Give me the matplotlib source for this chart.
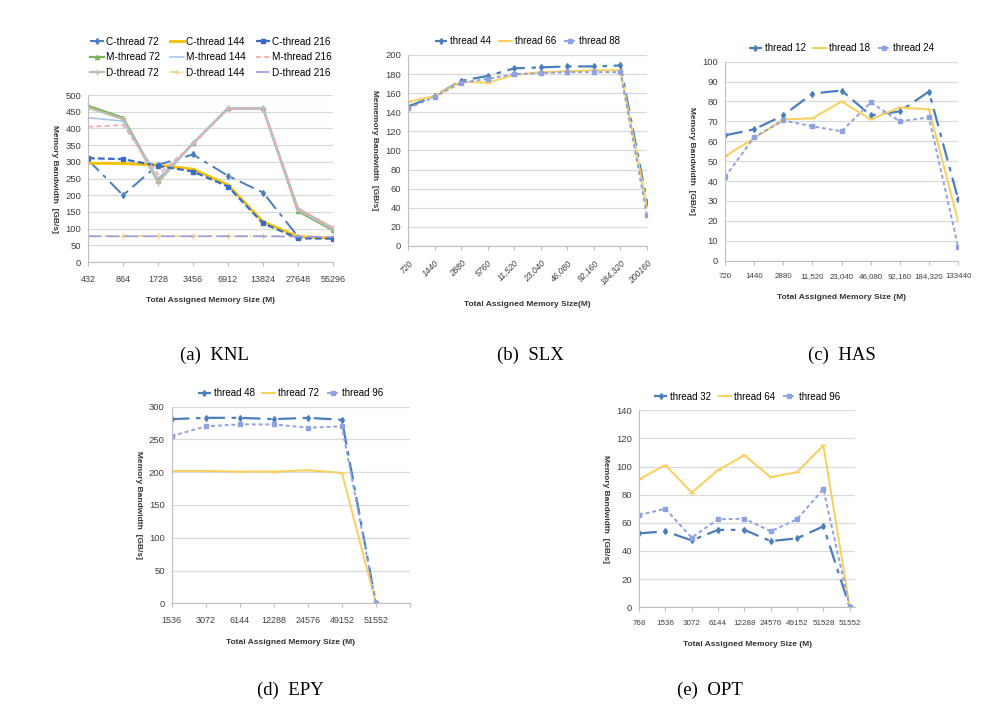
import matplotlib
matplotlib.use("Agg")
import matplotlib.pyplot as plt

##################################################################
# Données
##################################################################

# (a) KNL
knl_sizes = ["432", "864", "1728", "3456", "6912", "13824", "27648", "55296"]
knl_c72 = [306, 200, 291, 322, 258, 208, 76, 72]
knl_c144 = [296, 295, 290, 278, 231, 121, 76, 72]
knl_c216 = [311, 308, 288, 271, 226, 116, 71, 70]
knl_m72 = [468, 432, 245, 355, 460, 460, 152, 95]
knl_m144 = [432, 422, 250, 354, 460, 460, 155, 98]
knl_m216 = [405, 410, 262, 352, 458, 458, 158, 100]
knl_d72 = [462, 428, 238, 356, 461, 461, 160, 102]
knl_d144 = [78, 78, 78, 78, 78, 78, 77, 76]
knl_d216 = [77, 77, 77, 77, 77, 77, 76, 75]

# (b) SLX
slx_sizes = ["720", "1440", "2880", "5760", "11,520", "23,040", "46,080", "92,160", "184,320", "200160"]
slx_t44 = [146, 157, 173, 178, 186, 187, 188, 188, 189, 46]
slx_t66 = [151, 157, 172, 171, 179, 182, 183, 184, 184, 41]
slx_t88 = [144, 156, 171, 175, 180, 181, 182, 182, 182, 32]

# (c) HAS
has_sizes = ["720", "1440", "2880", "11,520", "23,040", "46,080", "92,160", "184,320", "133440"]
has_t12 = [63, 66, 73, 84, 85.5, 73, 75, 85, 31]
has_t18 = [52.5, 61.5, 71, 71.5, 80, 71, 77, 76, 20]
has_t24 = [42, 62, 70.5, 67.5, 65, 79.5, 70, 72, 7]

# (d) EPY
epy_sizes = ["1536", "3072", "6144", "12288", "24576", "49152", "51552", ""]
epy_t48 = [281, 283, 283, 281, 283, 280, 0]
epy_t72 = [202, 202, 201, 201, 203, 199, 0]
epy_t96 = [255, 270, 273, 273, 268, 270, 0]

# (e) OPT
opt_sizes = ["768", "1536", "3072", "6144", "12288", "24576", "49152", "51528", "51552"]
opt_t32 = [52.5, 54, 47.5, 55, 55, 47, 49, 57.5, 0]
opt_t64 = [91, 101, 81.5, 97.5, 108, 92.5, 96, 115, 0]
opt_t96 = [65.5, 70, 49.5, 62.5, 63, 54, 62.5, 84, 0]

##################################################################
# Styles
##################################################################
BLUE = "#4A7EBB"
DBLUE = "#3A6BC4"
YELLOW = "#F9CF5C"
LAVENDER = "#8EA1E1"
GRID = "#D9D9D9"

plt.rcParams["font.family"] = ["Liberation Sans", "DejaVu Sans"]


def style_axis(ax, labels, ymax, ystep, xlabel, ylabel, xmax=None, rot=0, xfs=6.5):
    """Mise en forme façon Excel : grille horizontale, axes gris clair."""
    n = len(labels)
    ax.set_xticks(range(n))
    if rot:
        ax.set_xticklabels(labels, rotation=rot, ha="right", rotation_mode="anchor",
                           fontsize=6.2, color="#404040", style="italic")
    else:
        ax.set_xticklabels(labels, fontsize=xfs, color="#404040")
    ax.set_xlim(0, (n - 1) if xmax is None else xmax)
    ax.set_ylim(0, ymax)
    ax.set_yticks(range(0, ymax + 1, ystep))
    ax.tick_params(axis="y", labelsize=6.8, colors="#404040", length=0, pad=5)
    ax.tick_params(axis="x", length=3, color="#BFBFBF", pad=6)
    ax.grid(axis="y", color=GRID, linewidth=0.9)
    ax.set_axisbelow(True)
    for s in ["top", "right"]:
        ax.spines[s].set_visible(False)
    ax.spines["left"].set_color("#BFBFBF")
    ax.spines["bottom"].set_color("#BFBFBF")
    ax.set_xlabel(xlabel, fontsize=6, fontweight="bold", color="#333333", labelpad=10)
    ax.set_ylabel(ylabel, fontsize=6, fontweight="bold", color="#333333", rotation=270,
                  labelpad=10)


def three_lines(ax, x, a, b, c, names):
    ax.plot(x, a, color=BLUE, lw=1.6, ls=(0, (8, 3, 2, 3)), marker="d", ms=3, label=names[0])
    ax.plot(x, b, color=YELLOW, lw=1.4, ls="-", marker="_", ms=4, label=names[1])
    ax.plot(x, c, color=LAVENDER, lw=1.4, ls=(0, (2, 1.5)), marker="s", ms=3, label=names[2])
    ax.legend(loc="lower center", bbox_to_anchor=(0.5, 1.0), ncol=3, frameon=False,
              handlelength=1.3, handletextpad=0.3, columnspacing=0.8,
              prop={"size": 7})


fig = plt.figure(figsize=(9.98, 7.13), dpi=100)

# --- (a) KNL ---
ax1 = fig.add_axes([0.0882, 0.6325, 0.2455, 0.2342])
x = range(len(knl_sizes))
ax1.plot(x, knl_c72, color=BLUE, lw=1.4, ls=(0, (8, 3, 2, 3)), marker="d", ms=3, label="C-thread 72")
ax1.plot(x, knl_m72, color="#7DB35E", lw=1.6, marker="^", ms=3, label="M-thread 72")
ax1.plot(x, knl_d72, color="#C4BBB0", lw=1.6, marker="+", ms=4, label="D-thread 72")
ax1.plot(x, knl_c144, color="#F2C200", lw=2.0, marker="_", ms=4, label="C-thread 144")
ax1.plot(x, knl_m144, color="#A9C6E8", lw=1.2, label="M-thread 144")
ax1.plot(x, knl_d144, color="#F8CE8C", lw=1.2, ls=(0, (5, 2, 1, 2)), marker="+", ms=4, label="D-thread 144")
ax1.plot(x, knl_c216, color=DBLUE, lw=1.6, ls=(0, (3, 1.5)), marker="s", ms=3, label="C-thread 216")
ax1.plot(x, knl_m216, color="#F4A7A0", lw=1.2, ls=(0, (3, 2)), label="M-thread 216")
ax1.plot(x, knl_d216, color="#9A9AE6", lw=1.2, ls=(0, (8, 3)), label="D-thread 216")
ax1.legend(loc="lower center", bbox_to_anchor=(0.5, 1.05), ncol=3, frameon=False,
           handlelength=1.4, handletextpad=0.2, columnspacing=1.0, labelspacing=0.55,
           prop={"size": 7.2})
style_axis(ax1, knl_sizes, 500, 50, "Total Assigned Memory Size (M)", "Memory Bandwidth  [GB/s]")

# --- (b) SLX ---
ax2 = fig.add_axes([0.4088, 0.655, 0.2395, 0.2679])
three_lines(ax2, range(len(slx_sizes)), slx_t44, slx_t66, slx_t88,
            ["thread 44", "thread 66", "thread 88"])
style_axis(ax2, slx_sizes, 200, 20, "Total Assigned Memory Size(M)", "Mememory Bandwidth  [GB/s]", rot=45)

# --- (c) HAS ---
ax3 = fig.add_axes([0.7265, 0.6344, 0.2335, 0.2791])
three_lines(ax3, range(len(has_sizes)), has_t12, has_t18, has_t24,
            ["thread 12", "thread 18", "thread 24"])
style_axis(ax3, has_sizes, 100, 10, "Total Assigned Memory Size (M)", "Memory Bandwidth  [GB/s]",
           xfs=5.7)

# --- (d) EPY ---
ax4 = fig.add_axes([0.172, 0.1539, 0.2388, 0.2757])
three_lines(ax4, range(len(epy_t48)), epy_t48, epy_t72, epy_t96,
            ["thread 48", "thread 72", "thread 96"])
style_axis(ax4, epy_sizes, 300, 50, "Total Assigned Memory Size (M)", "Memory Bandwidth  [GB/s]")

# --- (e) OPT ---
ax5 = fig.add_axes([0.6403, 0.1483, 0.2164, 0.2763])
three_lines(ax5, range(len(opt_sizes)), opt_t32, opt_t64, opt_t96,
            ["thread 32", "thread 64", "thread 96"])
style_axis(ax5, opt_sizes, 140, 20, "Total Assigned Memory Size (M)", "Memory Bandwidth  [GB/s]",
           xmax=8.2, xfs=5.8)

# Légendes des sous-figures
cap = dict(fontsize=13.5, family=["Liberation Serif", "DejaVu Serif"], ha="center", va="center")
fig.text(215 / 998, 1 - 355 / 713, "(a)  KNL", **cap)
fig.text(530 / 998, 1 - 355 / 713, "(b)  SLX", **cap)
fig.text(842 / 998, 1 - 355 / 713, "(c)  HAS", **cap)
fig.text(290 / 998, 1 - 690 / 713, "(d)  EPY", **cap)
fig.text(710 / 998, 1 - 690 / 713, "(e)  OPT", **cap)

fig.savefig("out.png", dpi=100)
